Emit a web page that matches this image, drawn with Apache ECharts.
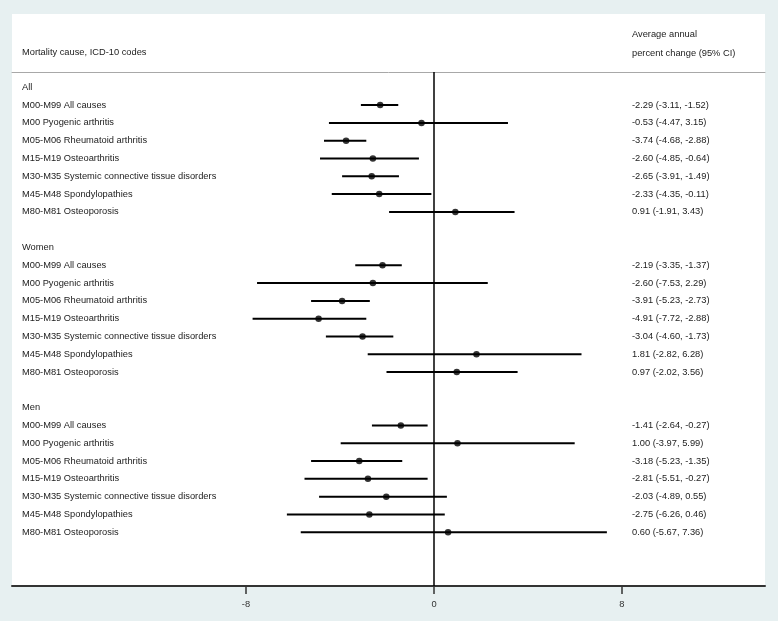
<!DOCTYPE html>
<html><head><meta charset="utf-8">
<script src="https://cdn.jsdelivr.net/npm/echarts@6/dist/echarts.min.js"></script>
<style>html,body{margin:0;padding:0;background:#e7f0f1;}#c{width:778px;height:621px;}</style>
</head><body><div id="c"></div>
<script>
const groups = ['All', 'Women', 'Men'];
const causes = ['M00-M99 All causes', 'M00 Pyogenic arthritis', 'M05-M06 Rheumatoid arthritis', 'M15-M19 Osteoarthritis', 'M30-M35 Systemic connective tissue disorders', 'M45-M48 Spondylopathies', 'M80-M81 Osteoporosis'];
const estAll = [-2.29, -0.53, -3.74, -2.60, -2.65, -2.33, 0.91];
const loAll = [-3.11, -4.47, -4.68, -4.85, -3.91, -4.35, -1.91];
const hiAll = [-1.52, 3.15, -2.88, -0.64, -1.49, -0.11, 3.43];
const estWomen = [-2.19, -2.60, -3.91, -4.91, -3.04, 1.81, 0.97];
const loWomen = [-3.35, -7.53, -5.23, -7.72, -4.60, -2.82, -2.02];
const hiWomen = [-1.37, 2.29, -2.73, -2.88, -1.73, 6.28, 3.56];
const estMen = [-1.41, 1.00, -3.18, -2.81, -2.03, -2.75, 0.60];
const loMen = [-2.64, -3.97, -5.23, -5.51, -4.89, -6.26, -5.67];
const hiMen = [-0.27, 5.99, -1.35, -0.27, 0.55, 0.46, 7.36];
const xTicks = [-8, 0, 8];

const groupData = [[estAll, loAll, hiAll], [estWomen, loWomen, hiWomen], [estMen, loMen, hiMen]];
const FONT = '"Liberation Sans", Arial, sans-serif';
const FS = 9.3;
const TXT = '#222';

const leftLabels = {}, rightLabels = {}, leftRows = [], rightRows = [], points = [], cis = [];
groups.forEach((g, gi) => {
  const base = gi * 9;
  leftLabels[base] = g; leftRows.push(base);
  const [est, lo, hi] = groupData[gi];
  causes.forEach((c, i) => {
    const r = base + 1 + i;
    leftLabels[r] = c; leftRows.push(r);
    rightLabels[r] = est[i].toFixed(2) + ' (' + lo[i].toFixed(2) + ', ' + hi[i].toFixed(2) + ')';
    rightRows.push(r);
    points.push([est[i], r]);
    cis.push([lo[i], hi[i], r]);
  });
});

const X_MIN = -17.96, X_MAX = 14.09, Y_MIN = -0.86, Y_MAX = 28.02;
const chart = echarts.init(document.getElementById('c'));
chart.setOption({
  animation: false,
  backgroundColor: '#e7f0f1',
  grid: { left: 12, right: 13, top: 72, bottom: 35 },
  graphic: [
    { type: 'rect', z: -100, silent: true, shape: { x: 12, y: 14, width: 753, height: 572 }, style: { fill: '#ffffff' } },
    { type: 'text', silent: true, style: { x: 22, y: 52, text: 'Mortality cause, ICD-10 codes', fill: TXT, font: FS + 'px ' + FONT, verticalAlign: 'middle' } },
    { type: 'text', silent: true, style: { x: 632, y: 34, text: 'Average annual', fill: TXT, font: FS + 'px ' + FONT, verticalAlign: 'middle' } },
    { type: 'text', silent: true, style: { x: 632, y: 53, text: 'percent change (95% CI)', fill: TXT, font: FS + 'px ' + FONT, verticalAlign: 'middle' } }
  ],
  xAxis: [
    {
      type: 'value', min: X_MIN, max: X_MAX, position: 'bottom',
      axisLine: { show: true, onZero: false, lineStyle: { color: '#333', width: 2 } },
      axisTick: { show: true, customValues: xTicks, length: 8, lineStyle: { color: '#333', width: 1.5 } },
      axisLabel: { customValues: xTicks, margin: 14, color: '#333', fontSize: FS, fontFamily: FONT },
      splitLine: { show: false }
    },
    {
      type: 'value', min: X_MIN, max: X_MAX, position: 'top',
      axisLine: { show: true, onZero: false, lineStyle: { color: '#a8a8a8', width: 1 } },
      axisTick: { show: false }, axisLabel: { show: false }, splitLine: { show: false }
    }
  ],
  yAxis: [
    {
      type: 'value', inverse: true, min: Y_MIN, max: Y_MAX, position: 'left',
      axisLine: { show: false, onZero: false }, axisTick: { show: false }, splitLine: { show: false },
      axisLabel: { inside: true, margin: 10, customValues: leftRows, formatter: v => leftLabels[Math.round(v)] || '', color: TXT, fontSize: FS, fontFamily: FONT }
    },
    {
      type: 'value', inverse: true, min: Y_MIN, max: Y_MAX, position: 'right',
      axisLine: { show: false, onZero: false }, axisTick: { show: false }, splitLine: { show: false },
      axisLabel: { inside: true, align: 'left', margin: 133, customValues: rightRows, formatter: v => rightLabels[Math.round(v)] || '', color: TXT, fontSize: FS, fontFamily: FONT }
    }
  ],
  series: [
    {
      type: 'custom', silent: true, xAxisIndex: 0, yAxisIndex: 0, data: cis,
      encode: { x: [0, 1], y: 2 },
      renderItem: (params, api) => {
        const a = api.coord([api.value(0), api.value(2)]);
        const b = api.coord([api.value(1), api.value(2)]);
        return { type: 'line', shape: { x1: a[0], y1: a[1], x2: b[0], y2: b[1] }, style: { stroke: '#000', lineWidth: 2 } };
      }
    },
    {
      type: 'scatter', silent: true, xAxisIndex: 0, yAxisIndex: 0, data: points,
      symbol: 'circle', symbolSize: 6.5, itemStyle: { color: '#000' }, z: 5,
      markLine: {
        silent: true, symbol: ['none', 'none'], label: { show: false },
        lineStyle: { color: '#000', width: 1.5, type: 'solid' },
        data: [{ xAxis: 0 }]
      }
    }
  ]
});
</script>
</body></html>
